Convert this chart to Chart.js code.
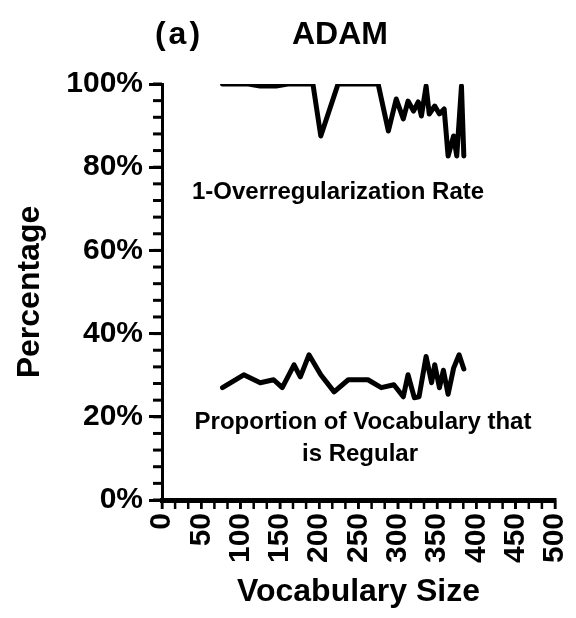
<!DOCTYPE html>
<html>
<head>
<meta charset="utf-8">
<script src="https://cdn.jsdelivr.net/npm/chart.js@4.4.0/dist/chart.umd.min.js"></script>
<style>
    html, body { margin: 0; padding: 0; background: #fff; }
    #wrap { width: 576px; height: 618px; }
</style>
</head>
<body>
<div id="wrap"><canvas id="chart"></canvas></div>
<script>
// 1 - overregularization rate (upper line)
const overVocab = [77, 110, 125, 145, 160, 192, 202, 224, 250, 275, 288, 298, 307, 313, 320, 326, 330, 336, 340, 347, 353, 359, 364, 371, 375, 381, 384];
const overRate = [100, 100, 99.5, 99.5, 100, 100, 87.5, 100, 100, 100, 88.7, 96.4, 91.6, 95.9, 93.5, 95.7, 92.3, 99.5, 92.8, 94.7, 92.8, 94, 82.7, 87.5, 82.7, 99.5, 82.7];

// proportion of vocabulary that is regular (lower line)
const regVocab = [77, 104, 125, 142, 153, 168, 176, 187, 202, 219, 237, 262, 279, 295, 307, 313, 321, 327, 336, 343, 347, 353, 358, 364, 371, 378, 384];
const regProp = [27, 30.1, 28.2, 28.9, 27, 32.5, 29.6, 34.9, 30.1, 26, 28.9, 28.9, 27, 27.7, 24.8, 30.1, 24.6, 24.8, 34.5, 28.2, 32.5, 27, 31.2, 25.4, 31.7, 34.9, 31.5];

// axis ticks
const xTickValues = [0, 50, 100, 150, 200, 250, 300, 350, 400, 450, 500];
const yTickValues = [0, 20, 40, 60, 80, 100];

const FONT = "'Liberation Sans', Arial, Helvetica, sans-serif";

const toPoints = (xs, ys) => xs.map((x, i) => ({ x: x, y: ys[i] }));

// title, annotations and minor ticks
const overlay = {
    id: 'overlay',
    afterDraw(chart) {
        const { ctx, scales: { x, y } } = chart;
        ctx.save();
        ctx.fillStyle = '#000';
        ctx.strokeStyle = '#000';

        // minor ticks on y (every 4%)
        ctx.lineWidth = 3;
        for (let v = 0; v <= 100; v += 4) {
            const py = y.getPixelForValue(v);
            ctx.beginPath();
            ctx.moveTo(x.left - 9, py);
            ctx.lineTo(x.left, py);
            ctx.stroke();
        }
        // minor ticks on x
        ctx.lineWidth = 2.5;
        for (let i = 0; i <= 30; i++) {
            const px = x.getPixelForValue(i * 50 / 3);
            ctx.beginPath();
            ctx.moveTo(px, y.bottom);
            ctx.lineTo(px, y.bottom + 9);
            ctx.stroke();
        }

        // title
        ctx.textBaseline = 'middle';
        ctx.textAlign = 'center';
        ctx.font = `bold 32px ${FONT}`;
        ctx.letterSpacing = '3px';
        ctx.fillText('(a)', 179, 35);
        ctx.letterSpacing = '0px';
        ctx.fillText('ADAM', 340, 35);

        // line annotations
        ctx.font = `bold 24px ${FONT}`;
        ctx.textAlign = 'left';
        ctx.fillText('1-Overregularization Rate', 192, 192);
        ctx.textAlign = 'center';
        ctx.fillText('Proportion of Vocabulary that', 363, 422);
        ctx.fillText('is Regular', 360, 454);
        ctx.restore();
    }
};

const ctx = document.getElementById('chart').getContext('2d');

new Chart(ctx, {
    type: 'line',
    data: {
        datasets: [{
            label: '1-Overregularization Rate',
            data: toPoints(overVocab, overRate),
        }, {
            label: 'Proportion of Vocabulary that is Regular',
            data: toPoints(regVocab, regProp),
        }]
    },
    options: {
        responsive: true,
        maintainAspectRatio: false,
        animation: false,
        layout: {
            padding: { top: 84, right: 0, left: 0, bottom: 0 }
        },
        elements: {
            line: {
                borderColor: '#000',
                borderWidth: 5,
                tension: 0,
                borderJoinStyle: 'round',
                borderCapStyle: 'round',
                fill: false
            },
            point: { radius: 0, hoverRadius: 0 }
        },
        plugins: {
            legend: { display: false },
            tooltip: { enabled: false }
        },
        scales: {
            x: {
                type: 'linear',
                min: 0,
                max: 500,
                afterBuildTicks: s => { s.ticks = xTickValues.map(v => ({ value: v })); },
                afterFit: s => {
                    s.height = 118;
                    s.paddingLeft = 0;
                    s.paddingRight = 21;
                },
                border: { color: '#000', width: 5 },
                grid: { drawOnChartArea: false, color: '#000', tickLength: 9, lineWidth: 2.5 },
                ticks: {
                    autoSkip: false,
                    minRotation: 90,
                    maxRotation: 90,
                    padding: 4,
                    color: '#000',
                    font: { family: FONT, size: 30, weight: 'bold' }
                },
                title: {
                    display: true,
                    text: 'Vocabulary Size',
                    color: '#000',
                    font: { family: FONT, size: 32, weight: 'bold' },
                    padding: { top: 0, bottom: 7 }
                }
            },
            y: {
                min: 0,
                max: 100,
                afterBuildTicks: s => { s.ticks = yTickValues.map(v => ({ value: v })); },
                afterFit: s => { s.width = 162; },
                border: { color: '#000', width: 3 },
                grid: { drawOnChartArea: false, color: '#000', tickLength: 13, lineWidth: 3 },
                ticks: {
                    autoSkip: false,
                    padding: 6,
                    color: '#000',
                    font: { family: FONT, size: 30, weight: 'bold' },
                    callback: v => v + '%'
                },
                title: {
                    display: true,
                    text: 'Percentage',
                    color: '#000',
                    font: { family: FONT, size: 32, weight: 'bold' },
                    padding: { top: 11, bottom: 0 }
                }
            }
        }
    },
    plugins: [overlay]
});
</script>
</body>
</html>
